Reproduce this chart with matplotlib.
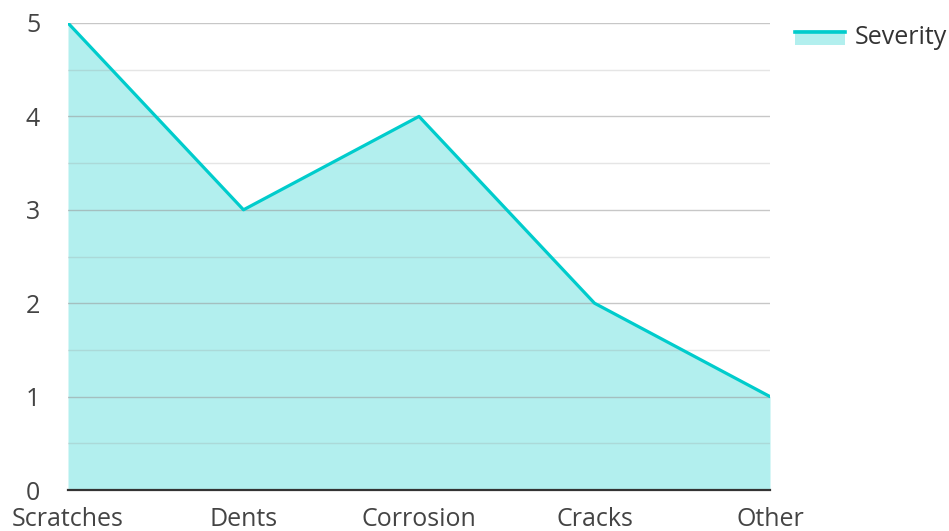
import matplotlib
matplotlib.use("Agg")
import matplotlib.pyplot as plt
from matplotlib.legend_handler import HandlerBase
from matplotlib.patches import Rectangle
from matplotlib.lines import Line2D

categories = ["Scratches", "Dents", "Corrosion", "Cracks", "Other"]
severity = [5, 3, 4, 2, 1]

line_color = "#00cccc"
fill_color = "#b2efee"

plt.rcParams['font.family'] = ['Open Sans', 'DejaVu Sans']

fig = plt.figure(figsize=(9.49, 5.31), dpi=100)
ax = fig.add_axes([68 / 949, 41 / 531, 702 / 949, 467 / 531])

x = list(range(len(categories)))
ax.fill_between(x, severity, 0, color=fill_color, lw=0, zorder=1)
ax.plot(x, severity, color=line_color, lw=2.3, zorder=3, solid_capstyle='round')

ax.set_xlim(0, len(categories) - 1)
ax.set_ylim(0, 5)
ax.set_yticks(range(0, 6))
ax.set_yticks([i + 0.5 for i in range(5)], minor=True)
ax.set_xticks(x)
ax.set_xticklabels(categories)

ax.grid(True, which='major', axis='y', color='#999999', alpha=0.55, lw=1, zorder=2)
ax.grid(True, which='minor', axis='y', color='#999999', alpha=0.25, lw=1, zorder=2)
ax.set_axisbelow(False)

for s in ['left', 'right', 'top']:
    ax.spines[s].set_visible(False)
ax.spines['bottom'].set_color('#333333')
ax.spines['bottom'].set_linewidth(1.6)
ax.spines['bottom'].set_zorder(4)

ax.tick_params(axis='both', which='both', length=0, labelsize=18, labelcolor='#444444')
ax.tick_params(axis='y', pad=20)
ax.tick_params(axis='x', pad=12)


class AreaHandler(HandlerBase):
    def create_artists(self, legend, orig, xd, yd, w, h, fontsize, trans):
        r = Rectangle((xd, yd), w, h, facecolor=fill_color, lw=0, transform=trans)
        l = Line2D([xd, xd + w], [yd + h * 0.82, yd + h * 0.82], color=line_color, lw=2.6, transform=trans)
        return [r, l]


handle = Rectangle((0, 0), 1, 1)
fig.legend([handle], ["Severity"], handler_map={Rectangle: AreaHandler()},
           loc='upper left', bbox_to_anchor=(777 / 949, 1 - 8 / 531), frameon=False,
           fontsize=18, handlelength=2.0, handleheight=0.6, handletextpad=0.4,
           borderpad=0.2, labelcolor='#333333')

fig.savefig("out.png", dpi=100)
